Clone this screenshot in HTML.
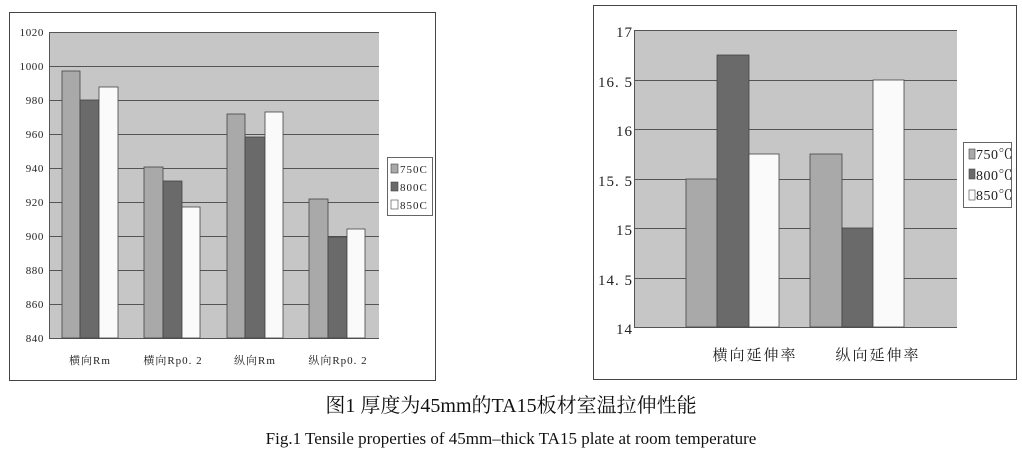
<!DOCTYPE html>
<html><head><meta charset="utf-8"><style>
body{margin:0;background:#fff;width:1022px;height:454px;overflow:hidden}
svg text{font-family:"Liberation Serif","Noto Serif CJK SC",serif;fill:#222}
</style></head><body>
<svg width="1022" height="454" xmlns="http://www.w3.org/2000/svg">
<!-- LEFT -->
<rect x="9.5" y="12.5" width="426" height="368" fill="#fff" stroke="#444"/>
<rect x="49" y="32" width="330" height="306" fill="#c6c6c6"/>
<g stroke="#555" stroke-width="1">
<line x1="49" y1="32.5" x2="379" y2="32.5"/><line x1="49" y1="66.5" x2="379" y2="66.5"/>
<line x1="49" y1="100.5" x2="379" y2="100.5"/><line x1="49" y1="134.5" x2="379" y2="134.5"/>
<line x1="49" y1="168.5" x2="379" y2="168.5"/><line x1="49" y1="202.5" x2="379" y2="202.5"/>
<line x1="49" y1="236.5" x2="379" y2="236.5"/><line x1="49" y1="270.5" x2="379" y2="270.5"/>
<line x1="49" y1="304.5" x2="379" y2="304.5"/><line x1="49" y1="338.5" x2="379" y2="338.5"/>
<line x1="49.5" y1="32" x2="49.5" y2="338"/>
</g>
<g stroke="#444" stroke-width="0.8">
<rect x="62" y="71" width="18" height="267" fill="#a9a9a9"/>
<rect x="80" y="100" width="19" height="238" fill="#6a6a6a"/>
<rect x="99" y="87" width="19" height="251" fill="#fafafa"/>
<rect x="144" y="167" width="19" height="171" fill="#a9a9a9"/>
<rect x="163" y="181" width="19" height="157" fill="#6a6a6a"/>
<rect x="182" y="207" width="18" height="131" fill="#fafafa"/>
<rect x="227" y="114" width="18" height="224" fill="#a9a9a9"/>
<rect x="245" y="137" width="20" height="201" fill="#6a6a6a"/>
<rect x="265" y="112" width="18" height="226" fill="#fafafa"/>
<rect x="309" y="199" width="19" height="139" fill="#a9a9a9"/>
<rect x="328" y="237" width="19" height="101" fill="#6a6a6a"/>
<rect x="347" y="229" width="18" height="109" fill="#fafafa"/>
</g>
<g font-size="11" text-anchor="end" letter-spacing="0.6">
<text x="44" y="36">1020</text><text x="44" y="70">1000</text><text x="44" y="104">980</text>
<text x="44" y="138">960</text><text x="44" y="172">940</text><text x="44" y="206">920</text>
<text x="44" y="240">900</text><text x="44" y="274">880</text><text x="44" y="308">860</text><text x="44" y="342">840</text>
</g>
<g font-size="11" text-anchor="middle" letter-spacing="1">
<text x="90" y="364">横向Rm</text><text x="173" y="364">横向Rp0. 2</text>
<text x="255" y="364">纵向Rm</text><text x="338" y="364">纵向Rp0. 2</text>
</g>
<rect x="387.5" y="157.5" width="45" height="58" fill="#fff" stroke="#666"/>
<rect x="391" y="164" width="7" height="9" fill="#a9a9a9" stroke="#444" stroke-width="0.6"/>
<rect x="391" y="182" width="7" height="9" fill="#6a6a6a" stroke="#444" stroke-width="0.6"/>
<rect x="391" y="200" width="7" height="9" fill="#fff" stroke="#444" stroke-width="0.6"/>
<g font-size="11" letter-spacing="1"><text x="400" y="173">750C</text><text x="400" y="191">800C</text><text x="400" y="209">850C</text></g>
<!-- RIGHT -->
<rect x="593.5" y="5.5" width="423" height="374" fill="#fff" stroke="#444"/>
<rect x="634" y="30" width="323" height="297" fill="#c6c6c6"/>
<g stroke="#555">
<line x1="634" y1="30.5" x2="957" y2="30.5"/><line x1="634" y1="80.5" x2="957" y2="80.5"/>
<line x1="634" y1="129.5" x2="957" y2="129.5"/><line x1="634" y1="179.5" x2="957" y2="179.5"/>
<line x1="634" y1="228.5" x2="957" y2="228.5"/><line x1="634" y1="278.5" x2="957" y2="278.5"/>
<line x1="634" y1="327.5" x2="957" y2="327.5"/><line x1="634.5" y1="30" x2="634.5" y2="327"/>
</g>
<g stroke="#444" stroke-width="0.8">
<rect x="686" y="179" width="31" height="148" fill="#a9a9a9"/>
<rect x="717" y="55" width="32" height="272" fill="#6a6a6a"/>
<rect x="749" y="154" width="30" height="173" fill="#fafafa"/>
<rect x="810" y="154" width="32" height="173" fill="#a9a9a9"/>
<rect x="842" y="228" width="31" height="99" fill="#6a6a6a"/>
<rect x="873" y="80" width="31" height="247" fill="#fafafa"/>
</g>
<g font-size="15" text-anchor="end" letter-spacing="1">
<text x="633" y="37">17</text><text x="633" y="87">16. 5</text><text x="633" y="136">16</text>
<text x="633" y="186">15. 5</text><text x="633" y="235">15</text><text x="633" y="285">14. 5</text><text x="633" y="334">14</text>
</g>
<g font-size="15" text-anchor="middle" letter-spacing="2"><text x="755" y="360">横向延伸率</text><text x="878" y="360">纵向延伸率</text></g>
<rect x="963.5" y="142.5" width="48" height="65" fill="#fff" stroke="#666"/>
<rect x="969" y="149" width="6" height="10" fill="#a9a9a9" stroke="#444" stroke-width="0.6"/>
<rect x="969" y="169" width="6" height="10" fill="#6a6a6a" stroke="#444" stroke-width="0.6"/>
<rect x="969" y="190" width="6" height="10" fill="#fff" stroke="#444" stroke-width="0.6"/>
<g font-size="14" letter-spacing="0.5"><text x="976" y="159">750℃</text><text x="976" y="180">800℃</text><text x="976" y="200">850℃</text></g>
<!-- captions -->
<text x="511" y="412" font-size="20" text-anchor="middle" style="fill:#111">图1 厚度为45mm的TA15板材室温拉伸性能</text>
<text x="511" y="444" font-size="17" text-anchor="middle" style="fill:#111">Fig.1 Tensile properties of 45mm–thick TA15 plate at room temperature</text>
</svg>
</body></html>
